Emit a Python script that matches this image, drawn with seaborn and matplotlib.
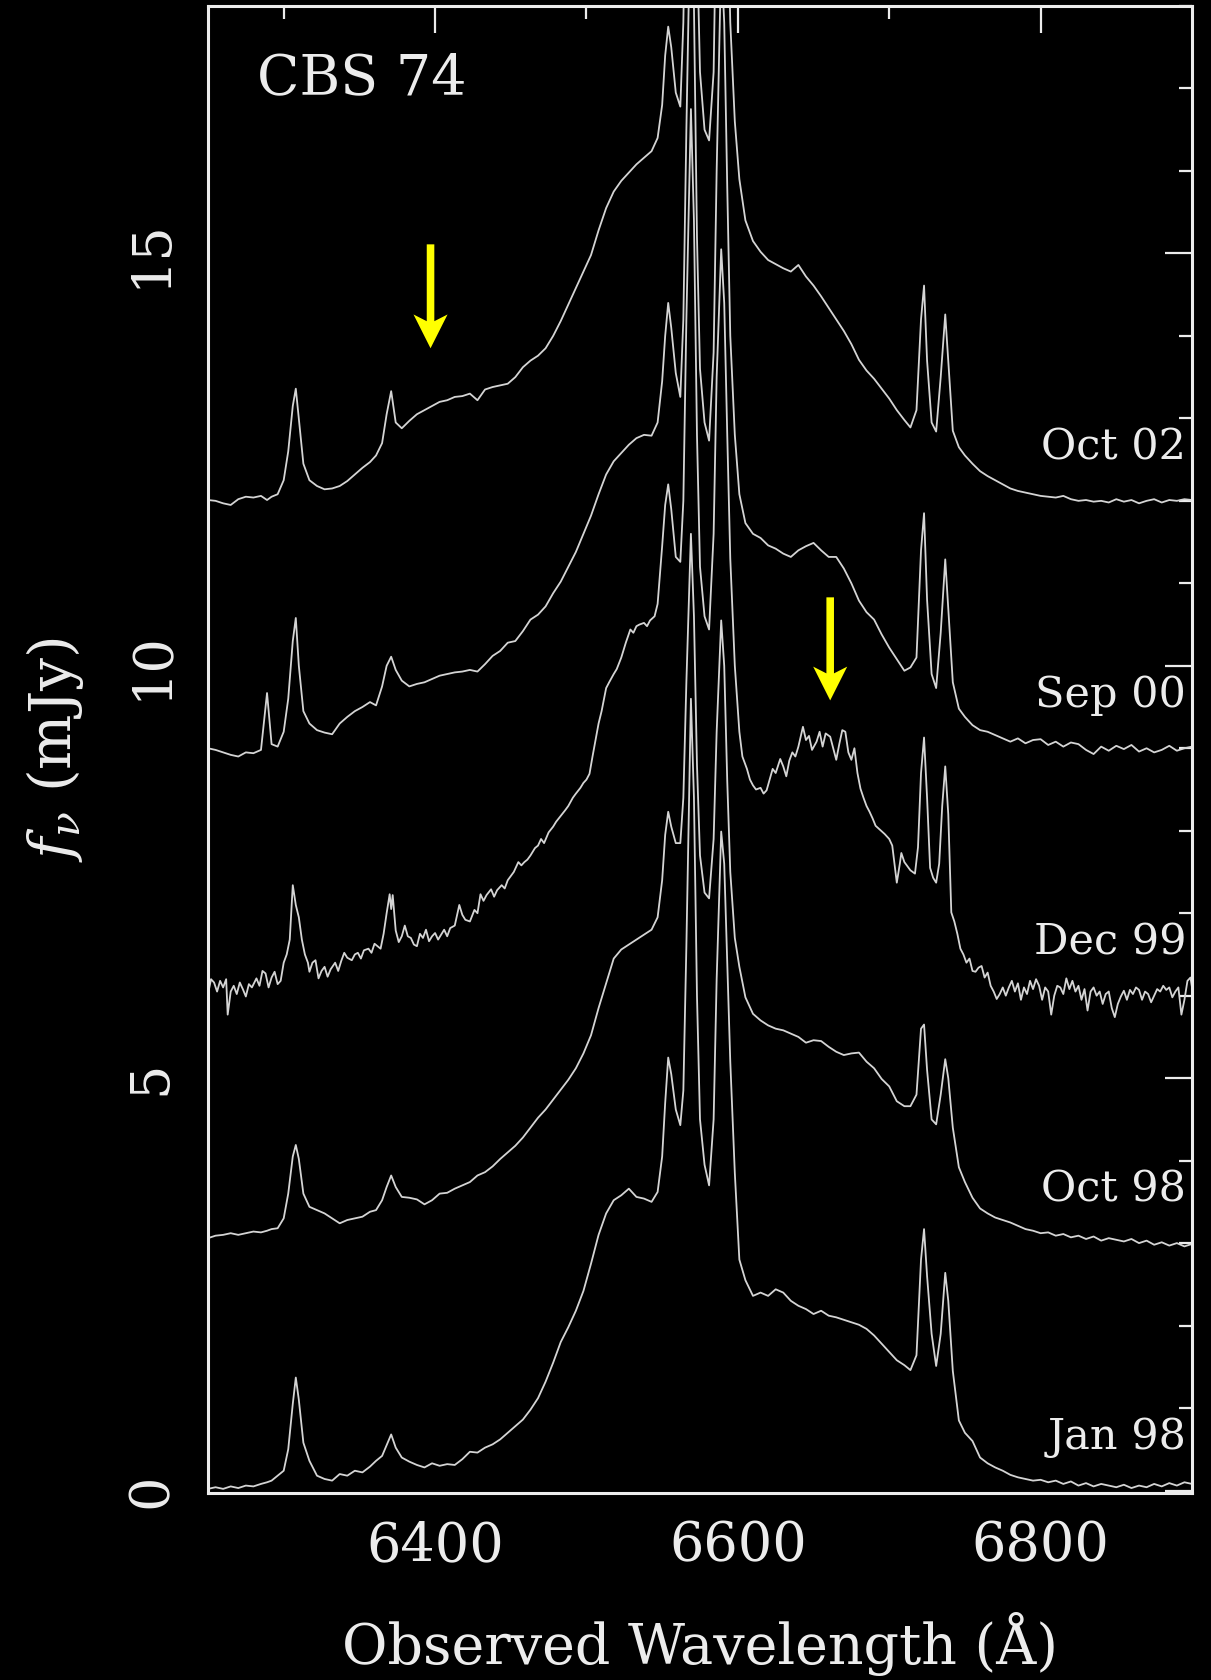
import matplotlib
matplotlib.use("Agg")
import matplotlib.pyplot as plt
import seaborn as sns
import pandas as pd
from matplotlib.ticker import FixedLocator, NullFormatter, MultipleLocator

# ---------------- data ----------------
# common wavelength grid (Angstrom) for Jan 98, Oct 98, Sep 00, Oct 02
wavelength = [
    6250, 6255, 6260, 6265, 6270, 6275, 6280, 6285, 6289, 6292,
    6296, 6300, 6303, 6306, 6308, 6310, 6313, 6317, 6322, 6327,
    6332, 6337, 6342, 6347, 6352, 6357, 6361, 6365, 6368, 6371,
    6374, 6378, 6383, 6388, 6393, 6398, 6403, 6408, 6413, 6418,
    6423, 6428, 6433, 6438, 6443, 6448, 6453, 6458, 6463, 6468,
    6473, 6478, 6483, 6488, 6493, 6498, 6503, 6508, 6513, 6518,
    6523, 6528, 6533, 6538, 6543, 6547, 6550, 6552, 6554, 6556,
    6559, 6562, 6564, 6566, 6569, 6571, 6573, 6575, 6578, 6581,
    6584, 6586, 6589, 6591, 6593, 6595, 6598, 6601, 6605, 6610,
    6615, 6620, 6625, 6630, 6635, 6640, 6645, 6650, 6655, 6660,
    6665, 6670, 6675, 6680, 6685, 6690, 6695, 6700, 6705, 6710,
    6714, 6718, 6721, 6723, 6725, 6728, 6731, 6734, 6737, 6739,
    6742, 6746, 6750, 6755, 6760, 6765, 6770, 6775, 6780, 6785,
    6790, 6795, 6800, 6805, 6810, 6815, 6820, 6825, 6830, 6835,
    6840, 6845, 6850, 6855, 6860, 6865, 6870, 6875, 6880, 6885,
    6890, 6895, 6900,
]

jan98 = [
    0.02, 0.04, 0.02, 0.05, 0.03, 0.06, 0.05, 0.08, 0.10, 0.12,
    0.18, 0.24, 0.50, 1.05, 1.37, 1.10, 0.58, 0.36, 0.18, 0.14,
    0.12, 0.20, 0.18, 0.24, 0.22, 0.29, 0.36, 0.42, 0.55, 0.68,
    0.52, 0.40, 0.35, 0.31, 0.28, 0.33, 0.30, 0.32, 0.31, 0.38,
    0.47, 0.46, 0.52, 0.56, 0.62, 0.70, 0.78, 0.86, 0.98, 1.12,
    1.32, 1.55, 1.80, 1.98, 2.18, 2.42, 2.75, 3.10, 3.36, 3.52,
    3.58, 3.66, 3.56, 3.54, 3.50, 3.62, 4.05, 4.70, 5.25, 5.05,
    4.62, 4.43, 4.85, 6.60, 9.60, 8.40, 6.00, 4.50, 3.95, 3.70,
    4.50, 6.20, 7.99, 7.60, 6.40, 5.20, 3.85, 2.80, 2.55, 2.36,
    2.40, 2.36, 2.44, 2.40, 2.30, 2.24, 2.20, 2.14, 2.18, 2.12,
    2.10, 2.07, 2.04, 2.01, 1.96, 1.88, 1.78, 1.68, 1.58, 1.52,
    1.46, 1.64, 2.80, 3.17, 2.60, 1.90, 1.51, 1.90, 2.64, 2.30,
    1.45, 0.85, 0.70, 0.60, 0.40, 0.33, 0.28, 0.24, 0.19, 0.16,
    0.14, 0.12, 0.13, 0.10, 0.12, 0.08, 0.11, 0.06, 0.09, 0.05,
    0.08, 0.06, 0.04, 0.07, 0.03, 0.06, 0.04, 0.08, 0.05, 0.09,
    0.06, 0.10, 0.08,
]

oct98 = [
    3.06, 3.09, 3.10, 3.12, 3.10, 3.12, 3.14, 3.13, 3.15, 3.17,
    3.18, 3.30, 3.60, 4.05, 4.19, 4.02, 3.60, 3.44, 3.40, 3.36,
    3.30, 3.24, 3.28, 3.30, 3.32, 3.38, 3.40, 3.52, 3.68, 3.82,
    3.68, 3.56, 3.55, 3.53, 3.47, 3.52, 3.60, 3.61, 3.66, 3.70,
    3.74, 3.82, 3.86, 3.93, 4.02, 4.10, 4.18, 4.28, 4.40, 4.52,
    4.62, 4.74, 4.86, 4.98, 5.12, 5.30, 5.52, 5.85, 6.15, 6.45,
    6.56, 6.62, 6.68, 6.74, 6.80, 6.95, 7.40, 7.95, 8.23, 8.05,
    7.85, 7.85, 8.40, 9.80, 11.60, 10.60, 8.80, 7.70, 7.25, 7.18,
    7.90, 9.20, 10.55, 10.00, 8.60, 7.50, 6.70, 6.35, 5.98, 5.78,
    5.70, 5.64, 5.60, 5.58, 5.54, 5.50, 5.43, 5.46, 5.45, 5.38,
    5.32, 5.28, 5.30, 5.31, 5.20, 5.12, 4.99, 4.90, 4.72, 4.66,
    4.66, 4.80, 5.60, 5.65, 5.10, 4.50, 4.44, 4.80, 5.23, 5.00,
    4.40, 3.92, 3.74, 3.55, 3.42, 3.36, 3.31, 3.28, 3.25, 3.21,
    3.17, 3.15, 3.12, 3.13, 3.09, 3.11, 3.07, 3.09, 3.05, 3.08,
    3.03, 3.06, 3.04, 3.02, 3.05, 3.00, 3.03, 2.98, 3.01, 2.97,
    3.00, 2.96, 2.99,
]

# Dec 99 is noisier, so it is read on its own finer grid
dec99_wave = [
    6250, 6252, 6254, 6256, 6258, 6260, 6262, 6263, 6265, 6267,
    6269, 6271, 6273, 6275, 6277, 6279, 6282, 6284, 6286, 6288,
    6290, 6292, 6294, 6296, 6298, 6300, 6302, 6304, 6306, 6308,
    6310, 6312, 6314, 6316, 6317, 6319, 6321, 6323, 6325, 6327,
    6329, 6331, 6334, 6336, 6338, 6340, 6342, 6345, 6347, 6349,
    6351, 6353, 6356, 6358, 6360, 6362, 6364, 6366, 6368, 6370,
    6371, 6372, 6374, 6376, 6378, 6380, 6382, 6384, 6386, 6388,
    6390, 6392, 6394, 6396, 6398, 6400, 6402, 6404, 6406, 6408,
    6410, 6413, 6416, 6418, 6420, 6423, 6426, 6428, 6430, 6432,
    6434, 6437, 6439, 6441, 6444, 6446, 6448, 6450, 6452, 6455,
    6457, 6459, 6461, 6463, 6466, 6468, 6470, 6472, 6475, 6478,
    6480, 6483, 6486, 6488, 6491, 6493, 6496, 6498, 6500, 6502,
    6504, 6506, 6508, 6510, 6513, 6515, 6518, 6520, 6523, 6526,
    6529, 6531, 6533, 6535, 6538, 6540, 6542, 6545, 6547, 6550,
    6552, 6554, 6556, 6559, 6562, 6564, 6566, 6569, 6571, 6573,
    6575, 6578, 6581, 6584, 6586, 6589, 6591, 6593, 6595, 6598,
    6601, 6603, 6606, 6608, 6610, 6612, 6615, 6617, 6619, 6621,
    6623, 6625, 6628, 6630, 6632, 6634, 6636, 6638, 6640, 6643,
    6645, 6647, 6649, 6652, 6654, 6656, 6658, 6661, 6663, 6665,
    6667, 6669, 6671, 6673, 6675, 6677, 6679, 6681, 6683, 6685,
    6687, 6689, 6691, 6694, 6697, 6700, 6702, 6705, 6707, 6708,
    6710, 6712, 6714, 6717, 6719, 6721, 6723, 6725, 6727, 6729,
    6731, 6733, 6735, 6737, 6739, 6741, 6743, 6745, 6747, 6749,
    6751, 6753, 6755, 6757, 6759, 6761, 6763, 6765, 6767, 6769,
    6771, 6773, 6775, 6777, 6779, 6781, 6783, 6785, 6787, 6789,
    6791, 6793, 6795, 6797, 6799, 6801, 6803, 6805, 6807, 6809,
    6811, 6813, 6815, 6817, 6819, 6821, 6823, 6825, 6827, 6829,
    6831, 6833, 6835, 6837, 6839, 6841, 6843, 6845, 6847, 6849,
    6851, 6853, 6855, 6857, 6859, 6861, 6863, 6865, 6867, 6869,
    6871, 6873, 6875, 6877, 6879, 6881, 6883, 6885, 6887, 6889,
    6891, 6893, 6895, 6897, 6899, 6900,
]

dec99 = [
    6.02, 6.20, 6.16, 6.05, 6.18, 6.10, 6.20, 5.77, 6.05, 6.12,
    6.02, 6.16, 6.08, 5.99, 6.14, 6.10, 6.21, 6.12, 6.30, 6.27,
    6.10, 6.22, 6.29, 6.14, 6.18, 6.40, 6.50, 6.68, 7.34, 7.10,
    6.95, 6.68, 6.50, 6.40, 6.29, 6.40, 6.43, 6.21, 6.30, 6.35,
    6.23, 6.32, 6.40, 6.30, 6.42, 6.52, 6.46, 6.43, 6.50, 6.52,
    6.45, 6.55, 6.57, 6.52, 6.63, 6.60, 6.57, 6.75, 7.00, 7.23,
    7.05, 7.22, 6.79, 6.65, 6.72, 6.85, 6.72, 6.70, 6.62, 6.60,
    6.75, 6.70, 6.80, 6.66, 6.72, 6.76, 6.68, 6.74, 6.80, 6.72,
    6.82, 6.85, 7.10, 6.98, 6.92, 6.90, 7.04, 7.00, 7.23, 7.15,
    7.22, 7.29, 7.20, 7.28, 7.34, 7.30, 7.40, 7.45, 7.50, 7.62,
    7.58, 7.62, 7.65, 7.70, 7.79, 7.82, 7.90, 7.85, 7.98, 8.05,
    8.11, 8.18, 8.25, 8.30, 8.40, 8.45, 8.52, 8.58, 8.62, 8.69,
    8.90, 9.10, 9.30, 9.45, 9.73, 9.80, 9.90, 9.96, 10.10, 10.28,
    10.44, 10.40, 10.48, 10.50, 10.52, 10.48, 10.55, 10.60, 10.75, 11.45,
    11.95, 12.20, 11.90, 11.32, 11.26, 12.00, 14.20, 16.75, 15.40, 12.80,
    11.20, 10.60, 10.44, 11.60, 13.50, 15.05, 14.40, 12.80, 11.30, 10.00,
    9.20, 8.90, 8.75, 8.62, 8.55, 8.50, 8.52, 8.45, 8.49, 8.62,
    8.75, 8.70, 8.87, 8.78, 8.66, 8.85, 8.95, 8.90, 9.02, 9.26,
    9.10, 9.15, 8.98, 9.08, 9.20, 9.02, 9.18, 9.14, 9.00, 8.86,
    9.05, 9.22, 9.20, 8.95, 8.86, 9.00, 8.70, 8.51, 8.40, 8.30,
    8.23, 8.15, 8.06, 8.01, 7.96, 7.90, 7.82, 7.37, 7.60, 7.73,
    7.62, 7.57, 7.52, 7.48, 7.80, 8.70, 9.13, 8.40, 7.55, 7.43,
    7.37, 7.60, 8.30, 8.78, 8.20, 7.01, 6.90, 6.75, 6.57, 6.50,
    6.40, 6.45, 6.30, 6.29, 6.34, 6.36, 6.22, 6.28, 6.12, 6.05,
    5.96, 6.02, 6.10, 6.00, 6.10, 6.18, 6.05, 6.15, 5.95, 6.10,
    6.02, 6.18, 6.08, 6.20, 6.12, 5.95, 6.10, 6.05, 5.77, 6.00,
    6.12, 6.10, 6.02, 6.21, 6.08, 6.18, 6.05, 6.12, 5.95, 6.08,
    5.82, 6.05, 6.10, 6.00, 6.05, 5.90, 6.02, 6.05, 5.85, 5.74,
    5.90, 5.99, 6.06, 5.95, 6.07, 6.02, 6.10, 6.07, 5.95, 6.05,
    6.02, 5.92, 6.00, 6.08, 6.05, 6.12, 6.07, 6.10, 5.98, 6.05,
    6.10, 5.77, 5.95, 6.18, 6.22, 6.10,
]

sep00 = [
    9.00, 8.98, 8.95, 8.92, 8.90, 8.95, 8.94, 8.98, 9.67, 9.05,
    9.02, 9.20, 9.60, 10.30, 10.58, 10.00, 9.45, 9.30, 9.22, 9.19,
    9.17, 9.30, 9.38, 9.45, 9.50, 9.56, 9.52, 9.75, 10.00, 10.11,
    9.95, 9.82, 9.75, 9.78, 9.80, 9.84, 9.88, 9.90, 9.92, 9.93,
    9.95, 9.93, 10.02, 10.12, 10.18, 10.28, 10.30, 10.42, 10.56, 10.62,
    10.72, 10.88, 11.02, 11.20, 11.38, 11.60, 11.82, 12.08, 12.32, 12.48,
    12.58, 12.68, 12.76, 12.80, 12.79, 12.95, 13.45, 14.00, 14.40, 14.10,
    13.55, 13.26, 14.20, 16.50, 19.50, 18.00, 15.20, 13.60, 12.95, 12.73,
    13.80, 16.00, 18.60, 17.80, 15.80, 14.00, 12.80, 12.08, 11.73, 11.60,
    11.55, 11.46, 11.42, 11.36, 11.32, 11.40, 11.45, 11.49, 11.40, 11.32,
    11.32, 11.18, 11.00, 10.79, 10.65, 10.56, 10.38, 10.22, 10.08, 9.94,
    9.98, 10.10, 11.40, 11.85, 10.80, 9.90, 9.73, 10.40, 11.29, 10.70,
    9.80, 9.48, 9.38, 9.28, 9.22, 9.20, 9.16, 9.12, 9.08, 9.12,
    9.06, 9.10, 9.11, 9.04, 9.08, 9.02, 9.07, 9.05, 8.98, 8.93,
    9.02, 8.97, 9.03, 8.99, 9.04, 8.96, 9.00, 8.95, 8.98, 9.03,
    8.97, 9.00, 9.02,
]

oct02 = [
    12.01, 12.00, 11.97, 11.95, 12.02, 12.05, 12.04, 12.06, 12.01, 12.05,
    12.08, 12.25, 12.60, 13.15, 13.36, 13.00, 12.45, 12.25, 12.18, 12.14,
    12.15, 12.18, 12.24, 12.32, 12.40, 12.47, 12.55, 12.70, 13.05, 13.33,
    12.95, 12.88, 12.97, 13.05, 13.10, 13.15, 13.20, 13.22, 13.26, 13.27,
    13.30, 13.22, 13.35, 13.38, 13.40, 13.42, 13.50, 13.62, 13.70, 13.76,
    13.85, 14.00, 14.18, 14.38, 14.58, 14.78, 14.98, 15.28, 15.55, 15.75,
    15.88, 15.98, 16.08, 16.16, 16.24, 16.40, 16.80, 17.40, 17.75, 17.50,
    16.95, 16.78, 17.80, 20.00, 23.00, 21.50, 18.80, 17.20, 16.50, 16.37,
    17.20, 19.50, 22.00, 21.20, 19.50, 17.80, 16.60, 15.90, 15.40, 15.15,
    15.02, 14.92, 14.87, 14.82, 14.78, 14.86, 14.72, 14.61, 14.48, 14.34,
    14.20, 14.06, 13.90, 13.71, 13.58, 13.48, 13.36, 13.24, 13.10, 12.98,
    12.89, 13.10, 14.20, 14.61, 13.70, 12.95, 12.84, 13.50, 14.26, 13.70,
    12.85, 12.65, 12.55, 12.45, 12.36, 12.30, 12.25, 12.20, 12.15, 12.12,
    12.10, 12.08, 12.06, 12.05, 12.04, 12.06, 12.02, 12.00, 12.01, 11.99,
    12.00, 11.98, 12.02, 11.99, 12.01, 11.97, 12.00, 12.02, 11.98, 12.01,
    12.00, 12.02, 12.01,
]

epochs = ["Jan 98", "Oct 98", "Dec 99", "Sep 00", "Oct 02"]
label_y = [0.5, 3.5, 6.5, 9.5, 12.5]
x_major = [6400, 6600, 6800]
x_minor = [6300, 6500, 6700]
y_major = [0, 5, 10, 15]
arrow_x = [6397, 6661]
arrow_top = [15.11, 10.83]
arrow_tip = [13.85, 9.58]

# ---------------- style ----------------
sns.set_style("dark", rc={"axes.facecolor": "black", "figure.facecolor": "black"})
plt.rcParams["font.family"] = ["DejaVu Serif"]
plt.rcParams["mathtext.fontset"] = "dejavuserif"

FG = "#ececec"
LINE = "#d4d4d4"

fig = plt.figure(figsize=(12.11, 16.8), dpi=100, facecolor="black")
ax = fig.add_axes([208 / 1211, 1 - 1493 / 1680, 984 / 1211, 1487 / 1680])
ax.set_facecolor("black")

series = [
    ("Jan 98", wavelength, jan98),
    ("Oct 98", wavelength, oct98),
    ("Dec 99", dec99_wave, dec99),
    ("Sep 00", wavelength, sep00),
    ("Oct 02", wavelength, oct02),
]
frames = [pd.DataFrame({"wave": w, "flux": f, "epoch": name}) for name, w, f in series]
df = pd.concat(frames, ignore_index=True)

sns.lineplot(data=df, x="wave", y="flux", units="epoch", estimator=None,
             sort=False, color=LINE, lw=1.3, ax=ax, legend=False)

ax.set_xlim(6250, 6900)
ax.set_ylim(-0.03, 18.0)

ax.xaxis.set_major_locator(FixedLocator(x_major))
ax.xaxis.set_minor_locator(FixedLocator(x_minor))
ax.yaxis.set_major_locator(FixedLocator(y_major))
ax.yaxis.set_minor_locator(MultipleLocator(1))
ax.yaxis.set_minor_formatter(NullFormatter())
ax.xaxis.set_minor_formatter(NullFormatter())
ax.set_xticklabels([str(v) for v in x_major])
ax.set_yticklabels([str(v) for v in y_major])

ax.tick_params(which="both", direction="in", top=True, right=True,
               color=FG, labelcolor=FG, width=1.6)
ax.tick_params(which="major", length=19.5)
ax.tick_params(which="minor", length=9.5)
ax.tick_params(axis="x", which="major", labelsize=39, pad=20)
ax.tick_params(axis="y", which="major", labelsize=39, pad=22)
for lab in ax.get_yticklabels():
    lab.set_rotation(90)
    lab.set_va("center")

for sp in ax.spines.values():
    sp.set_color(FG)
    sp.set_linewidth(2.2)
    sp.set_visible(True)
ax.grid(False)

ax.set_xlabel("Observed Wavelength (Å)", fontsize=40, color=FG, va="top")
ax.xaxis.set_label_coords(0.5, (1493 - 1612) / 1487)
ax.set_ylabel(r"$f_\nu$ (mJy)", fontsize=42, color=FG, va="center")
ax.yaxis.set_label_coords((55 - 208) / 984, 0.5)

ax.text(0.05, (1493 - 94) / 1487, "CBS 74", transform=ax.transAxes,
        fontsize=40, color=FG, ha="left", va="baseline")

for name, yb in zip(epochs, label_y):
    ax.text(0.994, yb, name, transform=ax.get_yaxis_transform(),
            fontsize=31, color=FG, ha="right", va="baseline")

for xa, yt, yp in zip(arrow_x, arrow_top, arrow_tip):
    ax.arrow(xa, yt, 0, yp - yt, width=5.0, head_width=22.5, head_length=0.41,
             length_includes_head=True, overhang=0.2, color="#ffff00", lw=0)

fig.savefig("out.png", dpi=100, facecolor="black")
